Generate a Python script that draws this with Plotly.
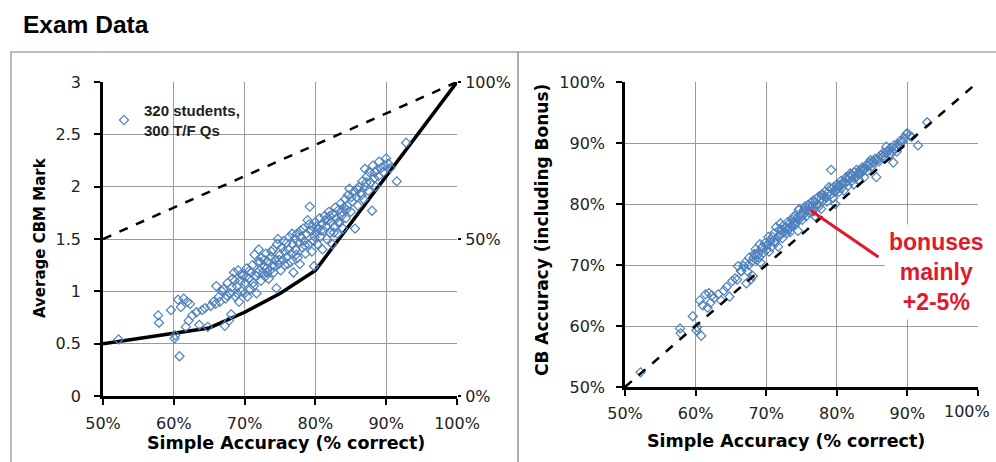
import plotly.graph_objects as go

W, H = 996, 462

# Per-student results: simple accuracy (%), average CBM mark, CB accuracy incl. bonus (%)
simple_acc = [
    52.2, 57.8, 57.9, 59.6, 60.1, 60.2, 60.8, 60.6, 61.0, 61.4, 61.9, 62.3, 61.7, 62.1,
    62.6, 63.2, 63.6, 64.0, 64.4, 64.8, 65.2, 65.6, 65.9, 66.0, 66.4, 66.8, 67.2, 67.3,
    67.6, 67.8, 68.1, 68.0, 68.3, 68.5, 68.7, 68.9, 69.1, 69.2, 69.4, 69.6, 69.8, 70.0,
    70.1, 70.3, 70.4, 70.6, 70.8, 70.9, 71.1, 71.2, 71.4, 71.6, 71.7, 71.9, 72.0, 72.1,
    72.3, 72.4, 72.6, 72.7, 72.9, 73.0, 73.1, 73.3, 73.4, 73.6, 73.7, 73.9, 74.0, 74.1,
    74.3, 74.5, 74.6, 74.7, 74.8, 75.0, 75.1, 75.3, 75.4, 75.6, 75.7, 75.9, 76.0, 76.2,
    76.3, 76.5, 76.6, 76.8, 76.9, 77.1, 77.2, 77.4, 77.5, 77.7, 77.8, 78.0, 78.1, 78.3,
    78.4, 78.6, 78.7, 78.9, 79.0, 79.2, 79.3, 79.5, 79.6, 79.8, 79.9, 80.0, 80.1, 80.3,
    80.4, 80.6, 80.7, 80.9, 81.0, 81.2, 81.3, 81.5, 81.6, 81.8, 81.9, 82.1, 82.2, 82.4,
    82.5, 82.7, 82.8, 83.0, 83.1, 83.3, 83.4, 83.6, 83.7, 83.9, 84.0, 84.2, 84.3, 84.5,
    84.6, 84.8, 85.0, 85.2, 85.4, 85.6, 85.8, 86.0, 86.2, 86.4, 86.6, 86.8, 87.0, 87.1,
    87.3, 87.5, 87.6, 87.8, 88.0, 88.1, 88.3, 88.5, 88.7, 88.9, 89.0, 89.3, 89.6, 89.8,
    90.0, 90.3, 90.6, 91.5, 92.8,
    66.5, 67.0, 67.5, 68.2, 68.6, 69.0, 69.5, 70.2, 70.7, 71.3, 71.8, 72.2, 72.8, 73.2,
    73.8, 74.2, 74.9, 75.5, 76.1, 76.7, 77.3, 77.9, 78.5, 79.1, 79.7, 80.2, 80.8, 81.4,
    82.0, 82.6, 83.2, 83.8, 84.4, 85.1, 85.9, 86.5, 87.2, 88.4,
]
cbm_mark = [
    0.54, 0.77, 0.70, 0.82, 0.55, 0.58, 0.38, 0.92, 0.85, 0.93, 0.90, 0.88, 0.66, 0.72,
    0.77, 0.80, 0.68, 0.82, 0.84, 0.66, 0.86, 0.90, 0.88, 1.05, 0.95, 1.00, 0.67, 0.93,
    1.08, 0.72, 0.78, 0.98, 1.12, 1.18, 0.95, 1.05, 1.20, 0.90, 1.10, 1.00, 1.15, 0.98,
    1.08, 1.22, 0.95, 1.12, 1.02, 1.18, 1.25, 1.08, 1.35, 1.15, 0.98, 1.28, 1.40, 1.20,
    1.10, 1.32, 1.18, 1.24, 1.14, 1.36, 1.22, 1.28, 1.12, 1.20, 1.33, 1.25, 1.40, 1.18,
    1.30, 1.03, 1.45, 1.50, 1.26, 1.35, 1.20, 1.42, 1.30, 1.38, 1.25, 1.46, 1.33, 1.40,
    1.52, 1.28, 1.36, 1.45, 1.18, 1.50, 1.40, 1.55, 1.32, 1.46, 1.26, 1.52, 1.42, 1.60,
    1.48, 1.36, 1.55, 1.68, 1.45, 1.81, 1.58, 1.38, 1.62, 1.24, 1.52, 1.66, 1.56, 1.45,
    1.60, 1.70, 1.52, 1.64, 1.40, 1.58, 1.72, 1.62, 1.50, 1.68, 1.76, 1.56, 1.66, 1.45,
    1.74, 1.62, 1.80, 1.70, 1.55, 1.78, 1.66, 1.84, 1.72, 1.60, 1.80, 1.88, 1.70, 1.82,
    1.92, 1.98, 1.76, 1.86, 1.95, 1.60, 1.90, 1.82, 2.00, 1.94, 2.05, 1.88, 2.17, 2.00,
    2.10, 1.96, 2.14, 2.04, 1.77, 2.20, 2.08, 2.00, 2.16, 2.10, 2.24, 2.18, 2.14, 2.20,
    2.27, 2.22, 2.18, 2.05, 2.42,
    0.90, 1.02, 0.96, 1.04, 1.10, 0.98, 1.16, 1.14, 1.20, 1.05, 1.18, 1.28, 1.30, 1.18,
    1.38, 1.24, 1.30, 1.48, 1.26, 1.55, 1.35, 1.58, 1.44, 1.64, 1.48, 1.62, 1.58, 1.68,
    1.72, 1.56, 1.66, 1.76, 1.78, 1.90, 1.98, 1.92, 2.04, 2.14,
]
cb_acc = [
    52.4, 59.6, 58.8, 61.6, 59.3, 59.8, 58.4, 64.2, 63.4, 65.2, 65.4, 65.0, 63.0, 63.8,
    64.6, 65.2, 64.2, 65.8, 66.4, 64.8, 67.4, 67.8, 67.6, 69.8, 69.0, 69.8, 67.0, 69.0,
    71.2, 67.6, 68.2, 70.6, 71.8, 72.6, 70.8, 71.8, 73.4, 70.4, 72.8, 72.0, 73.6, 72.4,
    73.2, 74.6, 72.2, 73.8, 73.0, 74.6, 75.2, 73.8, 76.2, 74.6, 73.0, 75.8, 76.8, 75.0,
    74.4, 76.4, 75.4, 76.0, 75.2, 77.0, 76.0, 76.8, 75.4, 76.4, 77.4, 77.0, 78.0, 76.6,
    77.6, 75.6, 79.0, 79.2, 77.6, 78.4, 77.4, 79.0, 78.4, 79.0, 78.0, 79.8, 79.0, 79.6,
    80.2, 78.8, 79.6, 80.2, 78.0, 80.8, 80.0, 81.2, 79.6, 80.8, 79.2, 81.4, 80.6, 82.0,
    81.2, 80.4, 81.8, 82.8, 81.4, 85.6, 82.4, 81.0, 82.8, 80.0, 82.2, 83.2, 82.6, 82.0,
    83.0, 83.8, 82.6, 83.6, 82.2, 83.4, 84.4, 83.8, 83.0, 84.4, 85.0, 83.8, 84.6, 83.2,
    85.2, 84.6, 85.6, 85.0, 84.0, 85.6, 85.0, 86.0, 85.4, 84.4, 85.8, 86.4, 85.4, 86.2,
    86.8, 87.2, 86.2, 86.8, 87.4, 84.4, 87.2, 87.0, 88.0, 87.6, 88.4, 87.6, 89.4, 88.6,
    88.8, 88.0, 89.2, 88.6, 86.8, 89.6, 89.0, 88.6, 89.8, 89.6, 90.4, 90.2, 90.8, 91.4,
    91.6, 91.2, 91.0, 89.6, 93.4,
    69.0, 70.4, 70.0, 71.2, 71.8, 71.2, 73.0, 73.4, 74.2, 73.6, 74.8, 75.8, 76.2, 75.8,
    77.8, 77.0, 78.0, 79.6, 78.6, 80.6, 79.8, 81.6, 81.0, 82.6, 82.0, 83.0, 83.2, 84.2,
    84.8, 84.2, 85.0, 85.8, 86.2, 87.0, 87.6, 87.8, 88.6, 89.4,
]

# Reference lines on the CBM panel
floor_acc = [50, 60, 65, 70, 75, 80, 90, 100]
floor_mark = [0.5, 0.6, 0.65, 0.8, 0.98, 1.2, 2.1, 3.0]
ceiling_acc = [50, 100]
ceiling_mark = [1.5, 3.0]
# Identity line on the accuracy panel
identity = [50, 100]

acc_ticks = [50, 60, 70, 80, 90, 100]
acc_labels = [f"{v}%" for v in acc_ticks]
# on the right panel the last label is placed separately, pulled in from the page edge
acc_labels_edge = acc_labels[:-1] + [""]
mark_ticks = [0, 0.5, 1, 1.5, 2, 2.5, 3]
pct_ticks = [0, 0.5, 1]
pct_labels = ["0%", "50%", "100%"]

POINT_BLUE = "#4F81BD"
TICK_FONT = dict(family="DejaVu Sans", size=16, color="#222222")
LABEL_FAMILY = "DejaVu Sans"


def fx(p):
    return p / W


def fy(p):
    return 1 - p / H


fig = go.Figure()

# Left panel: average CBM mark
fig.add_trace(go.Scatter(x=ceiling_acc, y=ceiling_mark, mode="lines",
                         line=dict(color="black", width=2.5, dash="dash"),
                         xaxis="x", yaxis="y", showlegend=False, hoverinfo="skip"))
fig.add_trace(go.Scatter(x=floor_acc, y=floor_mark, mode="lines",
                         line=dict(color="black", width=3.5),
                         xaxis="x", yaxis="y", showlegend=False, hoverinfo="skip"))
fig.add_trace(go.Scatter(x=simple_acc, y=cbm_mark, mode="markers",
                         marker=dict(symbol="diamond-open", size=7, color=POINT_BLUE,
                                     line=dict(width=1.2, color=POINT_BLUE)),
                         name="320 students,<br>300 T/F Qs",
                         xaxis="x", yaxis="y", showlegend=True))
# Secondary percentage scale on the right of the left panel
fig.add_trace(go.Scatter(x=[], y=[], mode="lines", xaxis="x", yaxis="y2",
                         showlegend=False, hoverinfo="skip"))

# Right panel: CB accuracy vs simple accuracy
fig.add_trace(go.Scatter(x=simple_acc, y=cb_acc, mode="markers",
                         marker=dict(symbol="diamond-open", size=7, color=POINT_BLUE,
                                     line=dict(width=1.2, color=POINT_BLUE)),
                         xaxis="x3", yaxis="y3", showlegend=False))
fig.add_trace(go.Scatter(x=identity, y=identity, mode="lines",
                         line=dict(color="black", width=2.5, dash="dash"),
                         xaxis="x3", yaxis="y3", showlegend=False, hoverinfo="skip"))

common_axis = dict(
    showgrid=True, gridcolor="#9a9a9a", gridwidth=1, zeroline=False,
    showline=True, linecolor="black", linewidth=2.5,
    ticks="outside", ticklen=6, tickwidth=2, tickcolor="black",
    tickfont=TICK_FONT, automargin=False,
)

fig.update_layout(
    width=W, height=H,
    margin=dict(l=0, r=0, t=0, b=0),
    paper_bgcolor="white", plot_bgcolor="white",
    xaxis=dict(domain=[fx(103), fx(457)], range=[50, 100], tickmode="array",
               tickvals=acc_ticks, ticktext=acc_labels, anchor="y",
               ticklabelstandoff=5, **common_axis),
    yaxis=dict(domain=[fy(396), fy(82)], range=[0, 3], tickvals=mark_ticks,
               anchor="x", ticklabelstandoff=10, **common_axis),
    yaxis2=dict(overlaying="y", side="right", anchor="x", range=[0, 1],
                tickmode="array", tickvals=pct_ticks, ticktext=pct_labels,
                showgrid=False, zeroline=False, showline=False, ticks="outside",
                ticklen=3, tickwidth=1.5, tickcolor="black", tickfont=TICK_FONT,
                automargin=False, ticklabelstandoff=1),
    xaxis3=dict(domain=[fx(625), fx(978)], range=[50, 100], tickmode="array",
                tickvals=acc_ticks, ticktext=acc_labels_edge, anchor="y3",
                ticklabelstandoff=4, **common_axis),
    yaxis3=dict(domain=[fy(387), fy(82)], range=[50, 100], tickmode="array",
                tickvals=acc_ticks, ticktext=acc_labels, anchor="x3",
                ticklabelstandoff=8, **common_axis),
    legend=dict(x=fx(104), y=fy(94), xanchor="left", yanchor="top",
                bgcolor="rgba(0,0,0,0)", borderwidth=0,
                font=dict(family="Liberation Sans", size=15, color="#222222",
                          weight="bold"),
                itemwidth=30),
    showlegend=True,
)

# Panel frames
for x0, x1 in [(11, 518), (518, 1010)]:
    fig.add_shape(type="rect", xref="paper", yref="paper",
                  x0=fx(x0), x1=fx(x1), y0=fy(480), y1=fy(52),
                  line=dict(color="#a6a6a6", width=1.5), fillcolor="rgba(0,0,0,0)",
                  layer="below")

# White backing behind the legend, hiding the grid there
fig.add_shape(type="rect", xref="paper", yref="paper",
              x0=fx(118), x1=fx(243), y0=fy(140), y1=fy(88),
              line=dict(width=0), fillcolor="white", layer="between")

# Right panel's last x tick label, kept clear of the page edge
fig.add_annotation(text=acc_labels[-1], xref="paper", yref="paper",
                   x=fx(967), y=fy(411), xanchor="center", yanchor="middle",
                   showarrow=False, font=TICK_FONT)

# Heading and axis titles
fig.add_annotation(text="Exam Data", xref="paper", yref="paper", x=fx(21), y=fy(24),
                   xanchor="left", yanchor="middle", showarrow=False,
                   font=dict(family="Liberation Sans", size=24.5, color="black", weight="bold"))
fig.add_annotation(text="Simple Accuracy (% correct)", xref="paper", yref="paper",
                   x=fx(286), y=fy(443), xanchor="center", yanchor="middle", showarrow=False,
                   font=dict(family=LABEL_FAMILY, size=17.5, color="black", weight="bold"))
fig.add_annotation(text="Simple Accuracy (% correct)", xref="paper", yref="paper",
                   x=fx(786), y=fy(441), xanchor="center", yanchor="middle", showarrow=False,
                   font=dict(family=LABEL_FAMILY, size=17.5, color="black", weight="bold"))
fig.add_annotation(text="Average CBM Mark", xref="paper", yref="paper",
                   x=fx(40), y=fy(238), xanchor="center", yanchor="middle", showarrow=False,
                   textangle=-90,
                   font=dict(family=LABEL_FAMILY, size=15, color="black", weight="bold"))
fig.add_annotation(text="CB Accuracy (including Bonus)", xref="paper", yref="paper",
                   x=fx(542), y=fy(230), xanchor="center", yanchor="middle", showarrow=False,
                   textangle=-90,
                   font=dict(family=LABEL_FAMILY, size=17, color="black", weight="bold"))

# Bonus callout
RED = "#e0192d"
fig.add_annotation(text="", xref="x3", yref="y3", x=76.2, y=79.0,
                   ax=70, ay=48, showarrow=True, arrowhead=2, arrowsize=0.45,
                   arrowwidth=3, arrowcolor=RED)
fig.add_annotation(text="bonuses<br>mainly<br>+2-5%", xref="paper", yref="paper",
                   x=fx(936), y=fy(272), xanchor="center", yanchor="middle",
                   showarrow=False, align="center", bgcolor="white", borderpad=4,
                   font=dict(family="Liberation Sans", size=23, color=RED, weight="bold"))

fig.write_html("out.html")
